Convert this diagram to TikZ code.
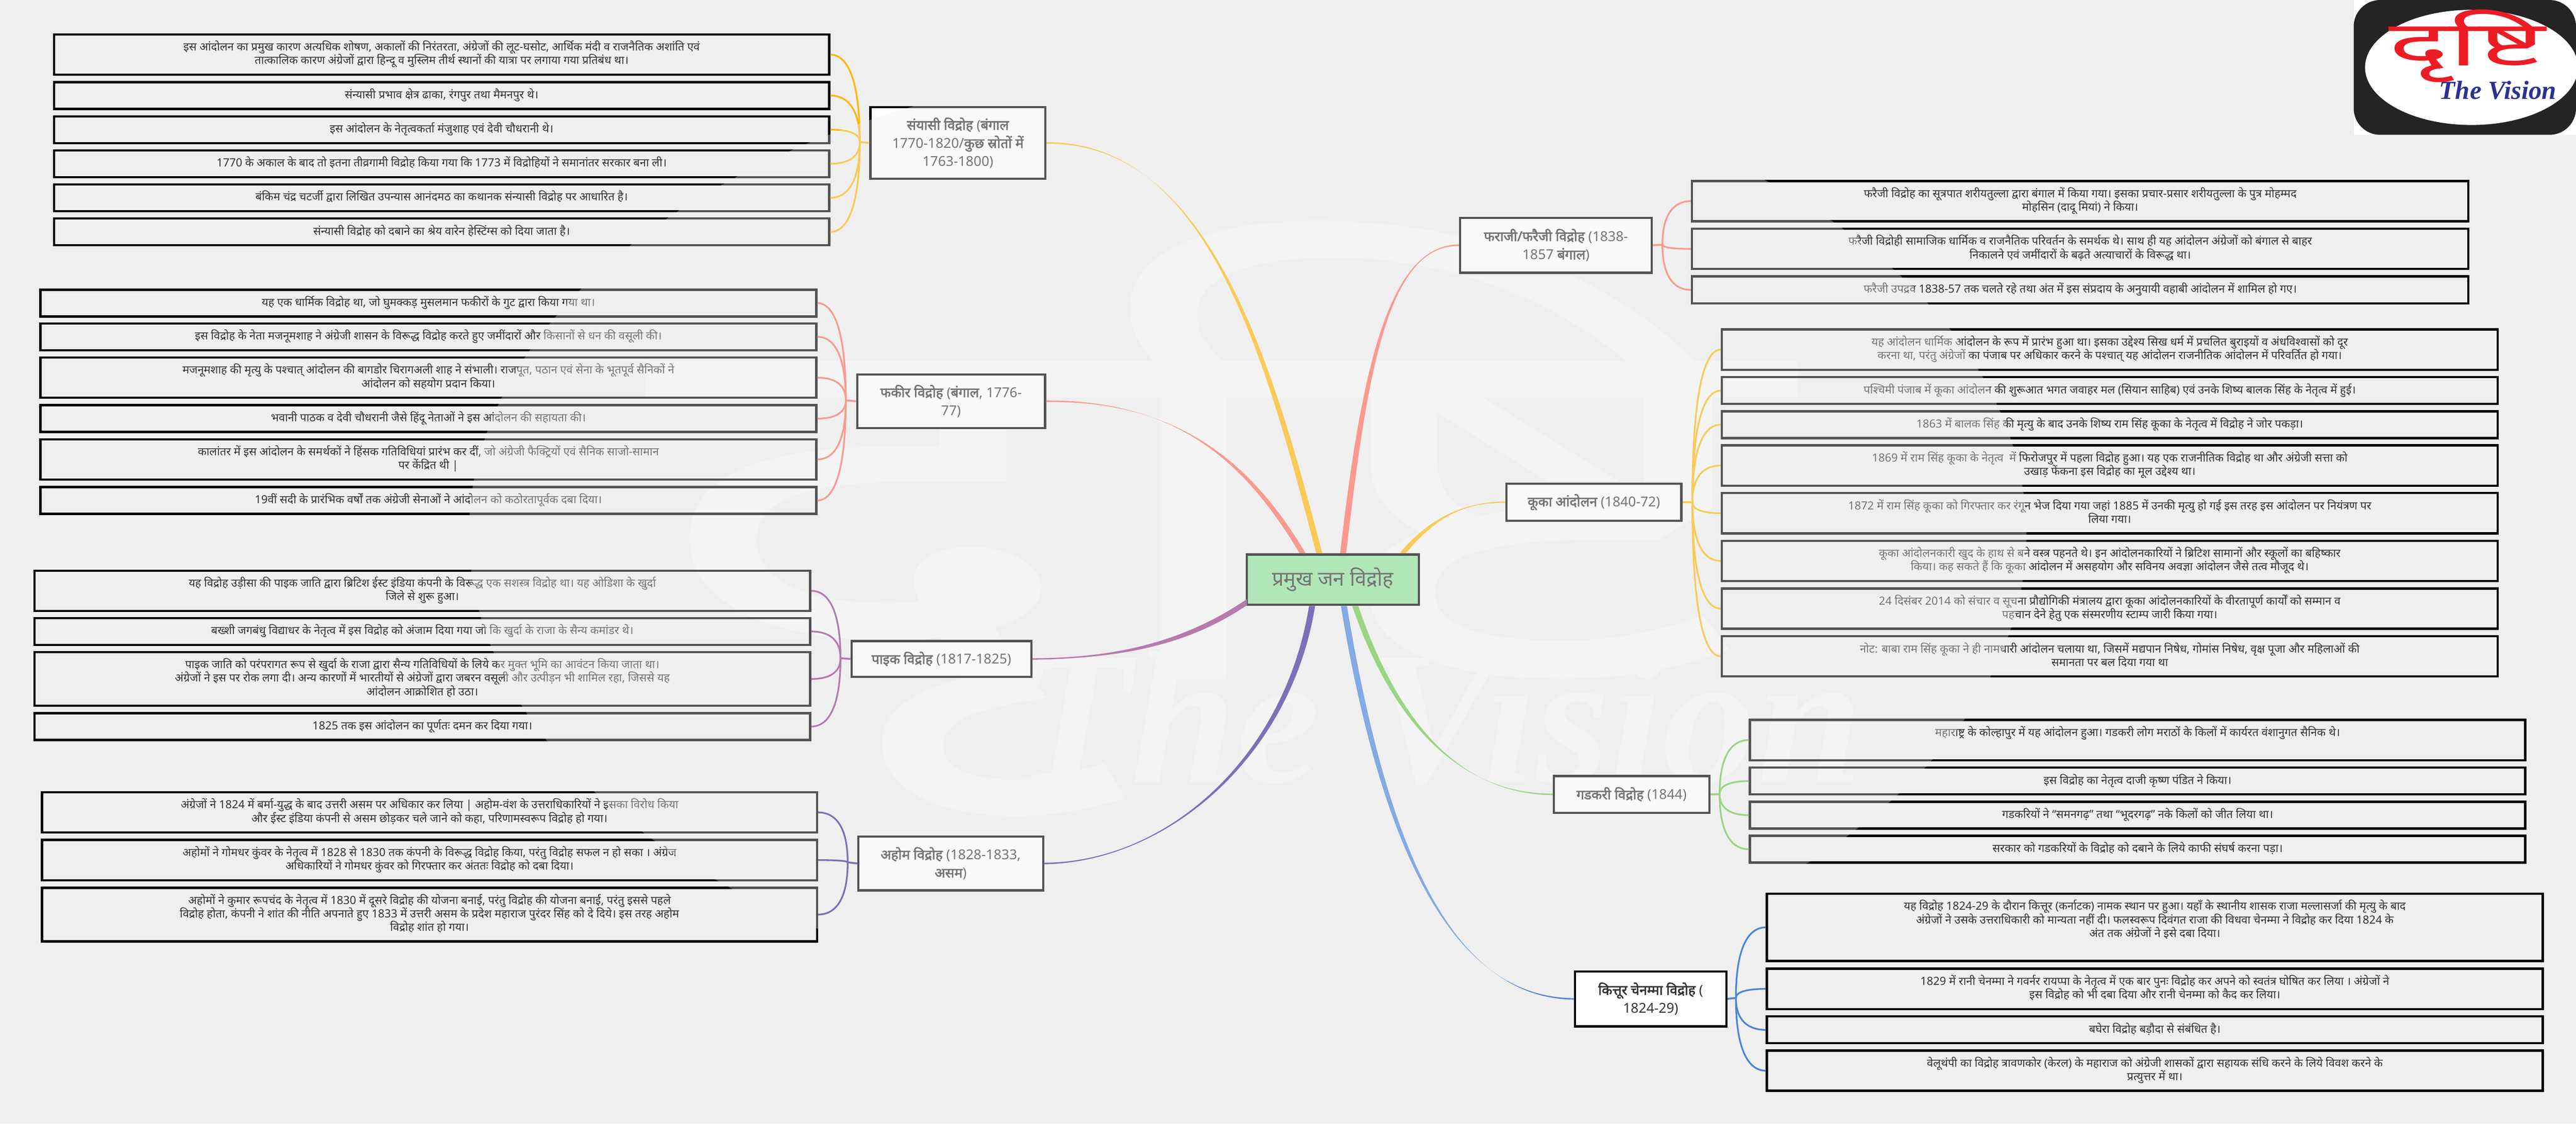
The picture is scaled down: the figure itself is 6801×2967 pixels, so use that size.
\documentclass[tikz,border=0pt]{standalone}
\usepackage{fontspec}
\setmainfont[Script=Devanagari]{Noto Sans}
\newfontfamily\visionfont{Liberation Serif}
\newfontfamily\devfont[Script=Devanagari,FakeBold=2.5]{Noto Sans}
\newfontfamily\logofont[Script=Devanagari,BoldFeatures={FakeBold=3}]{Noto Sans}
\usetikzlibrary{calc}

\definecolor{paper}{HTML}{EFEFEF}
\definecolor{markc}{HTML}{F7F7F7}
\definecolor{sunc}{HTML}{FFB705}
\definecolor{coralc}{HTML}{FF6D5B}
\definecolor{plumc}{HTML}{983C8A}
\definecolor{indigoc}{HTML}{3C2E9A}
\definecolor{leafc}{HTML}{6CC84A}
\definecolor{skyc}{HTML}{4A86DB}
\definecolor{rootc}{HTML}{90E29A}
\definecolor{inkc}{HTML}{333333}

\newcommand{\leaffont}{\fontsize{29.7}{35.5}\selectfont\lineskiplimit=-100pt}
\newcommand{\groupfont}{\fontsize{36}{48}\selectfont\lineskiplimit=-100pt}
\newcommand{\rootfont}{\fontsize{54}{48}\selectfont\bfseries}
\newcommand{\dv}[1]{{\devfont #1}}
% hub to box, leaves the hub upright and lands flat
\newcommand{\twig}[3]{\draw[#1, line width=4.5pt] (#2) .. controls ($(#2)!.7!(#2|-#3)$) and ($(#3)!.6!(#2|-#3)$) .. (#3);}
% root to group, wide at the root and thin at the group
\newcommand{\bough}[6]{\fill[#1] ($(#2)+(#6)$) .. controls ($(#3)+(#6)$) and (#4) .. ($(#5)+(0,2)$) -- ($(#5)-(0,2)$) .. controls (#4) and ($(#3)-(#6)$) .. ($(#2)-(#6)$) -- cycle;}

\tikzset{
  leafbox/.style = {draw=black, line width=6pt, anchor=north west, align=center, inner xsep=0pt, inner ysep=16.75pt, text=inkc, font=\leaffont, execute at begin node=\strut, execute at end node=\strut},
  groupbox/.style = {draw=black, fill=white, line width=6pt, anchor=north west, align=center, inner xsep=0pt, inner ysep=0pt, text=inkc, font=\groupfont},
  hubline/.style = {line width=5pt}
}

\begin{document}
\begin{tikzpicture}[x=1pt, y=-1pt]
\useasboundingbox (0,0) rectangle (6801,2967);
\fill[paper] (0,0) rectangle (6801,2967);

% faint mark, under the boxes
\node[text=markc, font=\fontsize{1800}{1800}\selectfont\bfseries, xscale=1.217, yscale=.75, transform shape, inner sep=0pt] (markname) at (3210,1370) {दृष्टि};
\node[text=markc, font=\visionfont\fontsize{500}{500}\selectfont\bfseries\itshape, inner sep=0pt, anchor=base west] (markvision) at (2680,2066) {The Vision};

\node[leafbox, minimum width=2046pt] (san1) at (140,88) {इस आंदोलन का प्रमुख कारण अत्यधिक शोषण, अकालों की निरंतरता, अंग्रेजों की लूट-घसोट, आर्थिक मंदी व राजनैतिक अशांति एवं\\तात्कालिक कारण अंग्रेजों द्वारा हिन्दू व मुस्लिम तीर्थ स्थानों की यात्रा पर लगाया गया प्रतिबंध था।};
\node[leafbox, minimum width=2046pt] (san2) at (140,214) {संन्यासी प्रभाव क्षेत्र ढाका, रंगपुर तथा मैमनपुर थे।};
\node[leafbox, minimum width=2046pt] (san3) at (140,304) {इस आंदोलन के नेतृत्वकर्ता मंजुशाह एवं देवी चौधरानी थे।};
\node[leafbox, minimum width=2046pt] (san4) at (140,394) {1770 के अकाल के बाद तो इतना तीव्रगामी विद्रोह किया गया कि 1773 में विद्रोहियों ने समानांतर सरकार बना ली।};
\node[leafbox, minimum width=2046pt] (san5) at (140,484) {बंकिम चंद्र चटर्जी द्वारा लिखित उपन्यास आनंदमठ का कथानक संन्यासी विद्रोह पर आधारित है।};
\node[leafbox, minimum width=2046pt] (san6) at (140,574) {संन्यासी विद्रोह को दबाने का श्रेय वारेन हेस्टिंग्स को दिया जाता है।};

\node[leafbox, minimum width=2048pt] (faq1) at (104,762) {यह एक धार्मिक विद्रोह था, जो घुमक्कड़ मुसलमान फकीरों के गुट द्वारा किया गया था।};
\node[leafbox, minimum width=2048pt] (faq2) at (104,851) {इस विद्रोह के नेता मजनूमशाह ने अंग्रेजी शासन के विरूद्ध विद्रोह करते हुए जमींदारों और किसानों से धन की वसूली की।};
\node[leafbox, minimum width=2048pt] (faq3) at (104,941) {मजनूमशाह की मृत्यु के पश्चात् आंदोलन की बागडोर चिरागअली शाह ने संभाली। राजपूत, पठान एवं सेना के भूतपूर्व सैनिकों ने\\आंदोलन को सहयोग प्रदान किया।};
\node[leafbox, minimum width=2048pt] (faq4) at (104,1067) {भवानी पाठक व देवी चौधरानी जैसे हिंदू नेताओं ने इस आंदोलन की सहायता की।};
\node[leafbox, minimum width=2048pt] (faq5) at (104,1157) {कालांतर में इस आंदोलन के समर्थकों ने हिंसक गतिविधियां प्रारंभ कर दीं, जो अंग्रेजी फैक्ट्रियों एवं सैनिक साजो-सामान\\पर केंद्रित थी |};
\node[leafbox, minimum width=2048pt] (faq6) at (104,1283) {19वीं सदी के प्रारंभिक वर्षों तक अंग्रेजी सेनाओं ने आंदोलन को कठोरतापूर्वक दबा दिया।};

\node[leafbox, minimum width=2048pt] (pai1) at (88,1504) {यह विद्रोह उड़ीसा की पाइक जाति द्वारा ब्रिटिश ईस्ट इंडिया कंपनी के विरूद्ध एक सशस्त्र विद्रोह था। यह ओडिशा के खुर्दा\\जिले से शुरू हुआ।};
\node[leafbox, minimum width=2048pt] (pai2) at (88,1629) {बख्शी जगबंधु विद्याधर के नेतृत्व में इस विद्रोह को अंजाम दिया गया जो कि खुर्दा के राजा के सैन्य कमांडर थे।};
\node[leafbox, minimum width=2048pt] (pai3) at (88,1719) {पाइक जाति को परंपरागत रूप से खुर्दा के राजा द्वारा सैन्य गतिविधियों के लिये कर मुक्त भूमि का आवंटन किया जाता था।\\अंग्रेजों ने इस पर रोक लगा दी। अन्य कारणों में भारतीयों से अंग्रेजों द्वारा जबरन वसूली और उत्पीड़न भी शामिल रहा, जिससे यह\\आंदोलन आक्रोशित हो उठा।};
\node[leafbox, minimum width=2048pt] (pai4) at (88,1880) {1825 तक इस आंदोलन का पूर्णतः दमन कर दिया गया।};

\node[leafbox, minimum width=2046pt] (aho1) at (108,2089) {अंग्रेजों ने 1824 में बर्मा-युद्ध के बाद उत्तरी असम पर अधिकार कर लिया | अहोम-वंश के उत्तराधिकारियों ने इसका विरोध किया\\और ईस्ट इंडिया कंपनी से असम छोड़कर चले जाने को कहा, परिणामस्वरूप विद्रोह हो गया।};
\node[leafbox, minimum width=2046pt] (aho2) at (108,2215) {अहोमों ने गोमधर कुंवर के नेतृत्व में 1828 से 1830 तक कंपनी के विरूद्ध विद्रोह किया, परंतु विद्रोह सफल न हो सका । अंग्रेज\\अधिकारियों ने गोमधर कुंवर को गिरफ्तार कर अंततः विद्रोह को दबा दिया।};
\node[leafbox, minimum width=2046pt] (aho3) at (108,2341) {अहोमों ने कुमार रूपचंद के नेतृत्व में 1830 में दूसरे विद्रोह की योजना बनाई, परंतु विद्रोह की योजना बनाई, परंतु इससे पहले\\विद्रोह होता, कंपनी ने शांत की नीति अपनाते हुए 1833 में उत्तरी असम के प्रदेश महाराज पुरंदर सिंह को दे दिये। इस तरह अहोम\\विद्रोह शांत हो गया।};

\node[leafbox, minimum width=2050pt] (far1) at (4464,475) {फरैजी विद्रोह का सूत्रपात शरीयतुल्ला द्वारा बंगाल में किया गया। इसका प्रचार-प्रसार शरीयतुल्ला के पुत्र मोहम्मद\\मोहसिन (दादू मियां) ने किया।};
\node[leafbox, minimum width=2050pt] (far2) at (4464,601) {फरैजी विद्रोही सामाजिक धार्मिक व राजनैतिक परिवर्तन के समर्थक थे। साथ ही यह आंदोलन अंग्रेजों को बंगाल से बाहर\\निकालने एवं जमींदारों के बढ़ते अत्याचारों के विरूद्ध था।};
\node[leafbox, minimum width=2050pt] (far3) at (4464,727) {फरैजी उपद्रव 1838-57 तक चलते रहे तथा अंत में इस संप्रदाय के अनुयायी वहाबी आंदोलन में शामिल हो गए।};

\node[leafbox, minimum width=2048pt] (kuk1) at (4543,867) {यह आंदोलन धार्मिक आंदोलन के रूप में प्रारंभ हुआ था। इसका उद्देश्य सिख धर्म में प्रचलित बुराइयों व अंधविश्वासों को दूर\\करना था, परंतु अंग्रेजों का पंजाब पर अधिकार करने के पश्चात् यह आंदोलन राजनीतिक आंदोलन में परिवर्तित हो गया।};
\node[leafbox, minimum width=2048pt] (kuk2) at (4543,993) {पश्चिमी पंजाब में कूका आंदोलन की शुरूआत भगत जवाहर मल (सियान साहिब) एवं उनके शिष्य बालक सिंह के नेतृत्व में हुई।};
\node[leafbox, minimum width=2048pt] (kuk3) at (4543,1083) {1863 में बालक सिंह की मृत्यु के बाद उनके शिष्य राम सिंह कूका के नेतृत्व में विद्रोह ने जोर पकड़ा।};
\node[leafbox, minimum width=2048pt] (kuk4) at (4543,1173) {1869 में राम सिंह कूका के नेतृत्व ~में फिरोजपुर में पहला विद्रोह हुआ। यह एक राजनीतिक विद्रोह था और अंग्रेजी सत्ता को\\उखाड़ फेंकना इस विद्रोह का मूल उद्देश्य था।};
\node[leafbox, minimum width=2048pt] (kuk5) at (4543,1299) {1872 में राम सिंह कूका को गिरफ्तार कर रंगून भेज दिया गया जहां 1885 में उनकी मृत्यु हो गई इस तरह इस आंदोलन पर नियंत्रण पर\\लिया गया।};
\node[leafbox, minimum width=2048pt] (kuk6) at (4543,1425) {कूका आंदोलनकारी खुद के हाथ से बने वस्त्र पहनते थे। इन आंदोलनकारियों ने ब्रिटिश सामानों और स्कूलों का बहिष्कार\\किया। कह सकते हैं कि कूका आंदोलन में असहयोग और सविनय अवज्ञा आंदोलन जैसे तत्व मौजूद थे।};
\node[leafbox, minimum width=2048pt] (kuk7) at (4543,1551) {24 दिसंबर 2014 को संचार व सूचना प्रौद्योगिकी मंत्रालय द्वारा कूका आंदोलनकारियों के वीरतापूर्ण कार्यों को सम्मान व\\पहचान देने हेतु एक संस्मरणीय स्टाम्प जारी किया गया।};
\node[leafbox, minimum width=2048pt] (kuk8) at (4543,1677) {नोट: बाबा राम सिंह कूका ने ही नामधारी आंदोलन चलाया था, जिसमें मद्यपान निषेध, गोमांस निषेध, वृक्ष पूजा और महिलाओं की\\समानता पर बल दिया गया था};

\node[leafbox, minimum width=2047pt] (gad1) at (4617,1898) {महाराष्ट्र के कोल्हापुर में यह आंदोलन हुआ। गडकरी लोग मराठों के किलों में कार्यरत वंशानुगत सैनिक थे।\\~};
\node[leafbox, minimum width=2047pt] (gad2) at (4617,2024) {इस विद्रोह का नेतृत्व दाजी कृष्ण पंडित ने किया।};
\node[leafbox, minimum width=2047pt] (gad3) at (4617,2114) {गडकरियों ने “समनगढ़” तथा “भूदरगढ़” नके किलों को जीत लिया था।};
\node[leafbox, minimum width=2047pt] (gad4) at (4617,2204) {सरकार को गडकरियों के विद्रोह को दबाने के लिये काफी संघर्ष करना पड़ा।};

\node[leafbox, minimum width=2048pt] (kit1) at (4662,2357) {यह विद्रोह 1824-29 के दौरान कित्तूर (कर्नाटक) नामक स्थान पर हुआ। यहाँ के स्थानीय शासक राजा मल्लासर्जा की मृत्यु के बाद\\अंग्रेजों ने उसके उत्तराधिकारी को मान्यता नहीं दी। फलस्वरूप दिवंगत राजा की विधवा चेनम्मा ने विद्रोह कर दिया 1824 के\\अंत तक अंग्रेजों ने इसे दबा दिया।\\~};
\node[leafbox, minimum width=2048pt] (kit2) at (4662,2555) {1829 में रानी चेनम्मा ने गवर्नर रायप्पा के नेतृत्व में एक बार पुनः विद्रोह कर अपने को स्वतंत्र घोषित कर लिया । अंग्रेजों ने\\इस विद्रोह को भी दबा दिया और रानी चेनम्मा को कैद कर लिया।};
\node[leafbox, minimum width=2048pt] (kit3) at (4662,2681) {बघेरा विद्रोह बड़ौदा से संबंधित है।};
\node[leafbox, minimum width=2048pt] (kit4) at (4662,2771) {वेलूथंपी का विद्रोह त्रावणकोर (केरल) के महाराज को अंग्रेजी शासकों द्वारा सहायक संधि करने के लिये विवश करने के\\प्रत्युत्तर में था।};

\node[groupbox, minimum width=462pt, minimum height=189pt] (sanyasi) at (2295,280) {\dv{संयासी विद्रोह} (\dv{बंगाल}\\1770-1820/\dv{कुछ स्रोतों में}\\1763-1800)};
\node[groupbox, minimum width=496pt, minimum height=141pt] (faqir) at (2260,986) {\dv{फकीर विद्रोह} (\dv{बंगाल}, 1776-\\77)};
\node[groupbox, minimum width=475pt, minimum height=94pt] (paik) at (2245,1690) {\dv{पाइक विद्रोह} (1817-1825)};
\node[groupbox, minimum width=488pt, minimum height=142pt] (ahom) at (2263,2206) {\dv{अहोम विद्रोह} (1828-1833,\\\dv{असम})};
\node[groupbox, minimum width=506pt, minimum height=145pt] (farazi) at (3852,572) {\dv{फराजी/फरैजी विद्रोह} (1838-\\1857 \dv{बंगाल})};
\node[groupbox, minimum width=462pt, minimum height=98pt] (kuka) at (3974,1274) {\dv{कूका आंदोलन} (1840-72)};
\node[groupbox, minimum width=411pt, minimum height=97pt] (gadkari) at (4099,2046) {\dv{गडकरी विद्रोह} (1844)};
\node[groupbox, minimum width=400pt, minimum height=145pt] (kittur) at (4155,2562) {\dv{कित्तूर चेनम्मा विद्रोह} (\\1824-29)};

\node[draw=black, fill=rootc, line width=6pt, anchor=north west, minimum width=454pt, minimum height=133pt, text=inkc, font=\rootfont] (root) at (3289,1461) {प्रमुख जन विद्रोह};

\coordinate (hubsan) at (2270,375);
\coordinate (hubfaq) at (2233,1057);
\coordinate (hubpai) at (2219,1738);
\coordinate (hubaho) at (2238,2277);
\coordinate (hubfar) at (4389,646);
\coordinate (hubkuk) at (4468,1326);
\coordinate (hubgad) at (4540,2097);
\coordinate (hubkit) at (4583,2635);

\draw[sunc, hubline] (sanyasi.west) -- (hubsan);
\twig{sunc}{hubsan}{san1.east}
\twig{sunc}{hubsan}{san2.east}
\twig{sunc}{hubsan}{san3.east}
\twig{sunc}{hubsan}{san4.east}
\twig{sunc}{hubsan}{san5.east}
\twig{sunc}{hubsan}{san6.east}
\draw[coralc, hubline] (faqir.west) -- (hubfaq);
\twig{coralc}{hubfaq}{faq1.east}
\twig{coralc}{hubfaq}{faq2.east}
\twig{coralc}{hubfaq}{faq3.east}
\twig{coralc}{hubfaq}{faq4.east}
\twig{coralc}{hubfaq}{faq5.east}
\twig{coralc}{hubfaq}{faq6.east}
\draw[plumc, hubline] (paik.west) -- (hubpai);
\twig{plumc}{hubpai}{pai1.east}
\twig{plumc}{hubpai}{pai2.east}
\twig{plumc}{hubpai}{pai3.east}
\twig{plumc}{hubpai}{pai4.east}
\draw[indigoc, hubline] (ahom.west) -- (hubaho);
\twig{indigoc}{hubaho}{aho1.east}
\twig{indigoc}{hubaho}{aho2.east}
\twig{indigoc}{hubaho}{aho3.east}
\draw[coralc, hubline] (farazi.east) -- (hubfar);
\twig{coralc}{hubfar}{far1.west}
\twig{coralc}{hubfar}{far2.west}
\twig{coralc}{hubfar}{far3.west}
\draw[sunc, hubline] (kuka.east) -- (hubkuk);
\twig{sunc}{hubkuk}{kuk1.west}
\twig{sunc}{hubkuk}{kuk2.west}
\twig{sunc}{hubkuk}{kuk3.west}
\twig{sunc}{hubkuk}{kuk4.west}
\twig{sunc}{hubkuk}{kuk5.west}
\twig{sunc}{hubkuk}{kuk6.west}
\twig{sunc}{hubkuk}{kuk7.west}
\twig{sunc}{hubkuk}{kuk8.west}
\draw[leafc, hubline] (gadkari.east) -- (hubgad);
\twig{leafc}{hubgad}{gad1.west}
\twig{leafc}{hubgad}{gad2.west}
\twig{leafc}{hubgad}{gad3.west}
\twig{leafc}{hubgad}{gad4.west}
\draw[skyc, hubline] (kittur.east) -- (hubkit);
\twig{skyc}{hubkit}{kit1.west}
\twig{skyc}{hubkit}{kit2.west}
\twig{skyc}{hubkit}{kit3.west}
\twig{skyc}{hubkit}{kit4.west}

\coordinate (rsan) at (3483,1461);
\coordinate (rfaq) at (3439,1461);
\coordinate (rfar) at (3546,1461);
\coordinate (rkuk) at (3703,1461);
\coordinate (rpai) at (3292,1590);
\coordinate (raho) at (3464,1600);
\coordinate (rgad) at (3578,1600);
\coordinate (rkit) at (3548,1600);
\bough{sunc}{rsan}{3350,950}{3190,375}{sanyasi.east}{8,0}
\bough{coralc}{rfaq}{3290,1210}{3100,1057}{faqir.east}{8,0}
\bough{coralc}{rfar}{3600,1000}{3660,646}{farazi.west}{8,0}
\bough{sunc}{rkuk}{3780,1370}{3860,1326}{kuka.west}{8,0}
\bough{plumc}{rpai}{3130,1700}{2950,1738}{paik.east}{0,8}
\bough{indigoc}{raho}{3400,2000}{3080,2277}{ahom.east}{8,0}
\bough{leafc}{rgad}{3680,1900}{3850,2097}{gadkari.west}{8,0}
\bough{skyc}{rkit}{3640,2150}{3800,2635}{kittur.west}{8,0}

% veil over everything inside the mark
\fill[color={rgb,255:red,240;green,240;blue,240}, opacity=.35] (3294,1410) ellipse [x radius=2056pt, y radius=1250pt];

% logo
\fill[white] (6214,0) rectangle (6801,356);
\fill[black!86!white, rounded corners=70pt] (6214,0) rectangle (6801,356);
\fill[white] (6525,178) ellipse [x radius=281pt, y radius=152pt];
\node[text={rgb,255:red,237;green,28;blue,36}, font=\logofont\fontsize{150}{150}\selectfont\bfseries, xscale=2, yscale=1.1, transform shape, inner sep=0pt] (logoname) at (6513,122) {दृष्टि};
\node[text={rgb,255:red,43;green,49;blue,146}, font=\visionfont\fontsize{69}{69}\selectfont\bfseries\itshape, inner sep=0pt, anchor=base west] (logovision) at (6440,262) {The Vision};
\end{tikzpicture}
\end{document}
